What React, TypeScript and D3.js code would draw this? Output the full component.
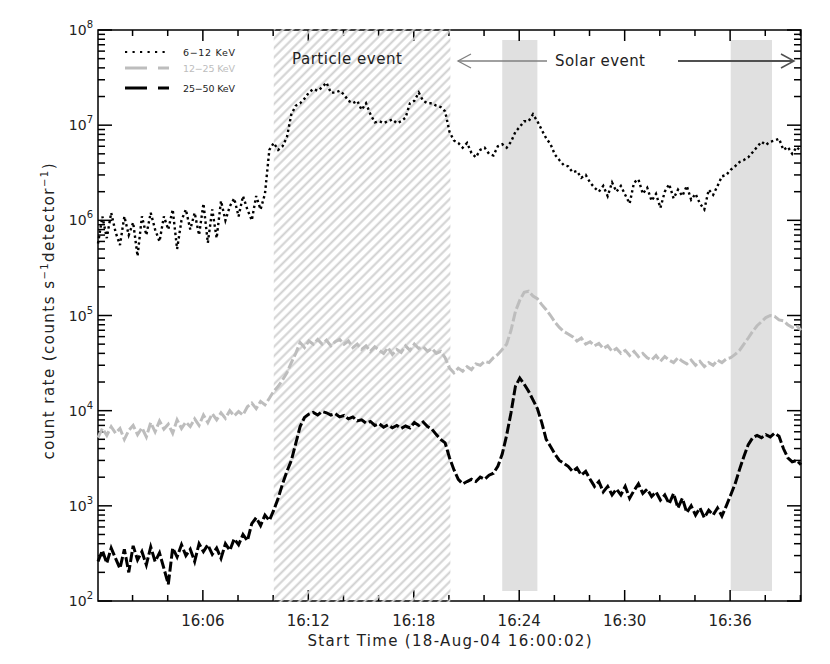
import * as d3 from 'd3'
import { useEffect, useRef } from 'react'

const W = 830
const H = 664
const FONT = '"DejaVu Sans", "Liberation Sans", sans-serif'

// samples every 15 s, minutes after the start time 16:00:02
const SAMPLE_MIN = 0.25
const START_OFFSET = 2 / 60

// 6-12 keV
const lowBand = [
  5.7e5, 1.1e6, 6.5e5, 1.2e6,
  7.5e5, 5.5e5, 1.1e6, 7.0e5,
  9.5e5, 4.2e5, 1.1e6, 7.0e5,
  1.2e6, 8.0e5, 6.0e5, 1.1e6,
  8.0e5, 1.3e6, 5.0e5, 1.0e6,
  1.3e6, 8.0e5, 1.2e6, 7.0e5,
  1.5e6, 5.8e5, 1.3e6, 6.5e5,
  1.6e6, 1.0e6, 1.4e6, 1.7e6,
  1.1e6, 1.8e6, 1.3e6, 1.0e6,
  1.8e6, 1.3e6, 1.9e6, 5.5e6,
  6.5e6, 5.5e6, 6.0e6, 7.5e6,
  1.3e7, 1.6e7, 1.7e7, 1.9e7,
  2.2e7, 2.4e7, 2.3e7, 2.5e7,
  2.8e7, 2.2e7, 2.2e7, 2.3e7,
  2.1e7, 1.8e7, 1.7e7, 1.8e7,
  1.45e7, 1.7e7, 1.3e7, 1.07e7,
  1.1e7, 1.05e7, 1.1e7, 1.15e7,
  1.05e7, 1.1e7, 1.2e7, 1.7e7,
  1.8e7, 2.2e7, 1.8e7, 1.7e7,
  1.7e7, 1.6e7, 1.55e7, 1.4e7,
  8.5e6, 6.9e6, 6.5e6, 5.8e6,
  6.5e6, 5.1e6, 4.6e6, 5.5e6,
  5.8e6, 5.0e6, 4.8e6, 6.0e6,
  6.3e6, 5.8e6, 6.7e6, 8.5e6,
  9.6e6, 1.1e7, 1.1e7, 1.3e7,
  1.1e7, 8.9e6, 7.3e6, 6.3e6,
  4.9e6, 4.3e6, 3.8e6, 3.7e6,
  3.2e6, 3.3e6, 2.8e6, 3.0e6,
  2.5e6, 2.2e6, 2.0e6, 2.3e6,
  1.8e6, 2.5e6, 2.0e6, 2.3e6,
  1.85e6, 1.5e6, 2.5e6, 2.7e6,
  1.9e6, 2.2e6, 1.6e6, 1.9e6,
  1.35e6, 2.0e6, 2.4e6, 1.7e6,
  2.1e6, 1.8e6, 2.3e6, 1.65e6,
  1.9e6, 1.5e6, 1.3e6, 2.1e6,
  1.85e6, 2.3e6, 2.9e6, 3.0e6,
  3.4e6, 3.7e6, 4.1e6, 4.3e6,
  4.6e6, 5.2e6, 5.9e6, 6.7e6,
  6.2e6, 6.7e6, 6.9e6, 7.2e6,
  5.5e6, 5.9e6, 5.0e6, 5.9e6,
  5.3e6,
]

// 12-25 keV
const midBand = [
  5.2e3, 6.5e3, 5.5e3, 6.8e3,
  5.8e3, 6.5e3, 5.0e3, 6.2e3,
  7.0e3, 5.6e3, 6.6e3, 5.3e3,
  7.5e3, 6.0e3, 7.8e3, 6.4e3,
  7.2e3, 5.8e3, 8.0e3, 6.5e3,
  7.6e3, 6.8e3, 8.2e3, 7.0e3,
  9.0e3, 7.5e3, 9.3e3, 8.0e3,
  9.5e3, 8.3e3, 1.0e4, 8.8e3,
  9.8e3, 9.0e3, 1.1e4, 1.2e4,
  1.05e4, 1.25e4, 1.15e4, 1.35e4,
  1.6e4, 1.8e4, 2.1e4, 2.5e4,
  3.2e4, 4.0e4, 5.2e4, 4.6e4,
  5.4e4, 5.0e4, 5.6e4, 5.0e4,
  5.5e4, 4.8e4, 5.3e4, 5.6e4,
  5.0e4, 5.4e4, 4.6e4, 5.0e4,
  4.4e4, 4.8e4, 4.2e4, 4.7e4,
  4.3e4, 4.0e4, 4.6e4, 3.9e4,
  4.4e4, 4.1e4, 4.8e4, 4.3e4,
  5.0e4, 4.5e4, 4.7e4, 4.2e4,
  4.5e4, 4.0e4, 4.2e4, 3.6e4,
  2.8e4, 2.5e4, 2.8e4, 2.6e4,
  2.9e4, 2.7e4, 3.1e4, 3.0e4,
  3.3e4, 3.2e4, 3.6e4, 3.9e4,
  4.4e4, 5.0e4, 7.0e4, 1.1e5,
  1.45e5, 1.75e5, 1.8e5, 1.6e5,
  1.5e5, 1.3e5, 1.15e5, 1.0e5,
  8.5e4, 7.5e4, 6.8e4, 6.4e4,
  6.0e4, 5.4e4, 5.8e4, 5.0e4,
  5.3e4, 4.8e4, 5.1e4, 4.5e4,
  4.8e4, 4.2e4, 4.5e4, 4.0e4,
  4.3e4, 3.8e4, 4.2e4, 3.7e4,
  4.0e4, 3.6e4, 3.4e4, 3.8e4,
  3.3e4, 3.7e4, 3.4e4, 3.2e4,
  3.6e4, 3.3e4, 3.1e4, 3.4e4,
  3.0e4, 3.3e4, 2.9e4, 3.2e4,
  3.0e4, 3.4e4, 3.2e4, 3.5e4,
  3.6e4, 3.9e4, 4.3e4, 5.0e4,
  5.8e4, 6.8e4, 7.8e4, 8.6e4,
  9.5e4, 1.0e5, 9.8e4, 9.0e4,
  8.8e4, 8.0e4, 7.5e4, 7.8e4,
  7.0e4,
]

// 25-50 keV
const highBand = [
  2.6e2, 3.4e2, 2.5e2, 3.6e2,
  2.8e2, 2.2e2, 3.5e2, 2.0e2,
  3.8e2, 2.7e2, 3.3e2, 2.4e2,
  3.7e2, 2.6e2, 3.2e2, 2.2e2,
  1.5e2, 3.6e2, 2.9e2, 3.9e2,
  3.0e2, 3.5e2, 2.6e2, 4.0e2,
  3.3e2, 3.9e2, 3.1e2, 3.6e2,
  2.8e2, 4.0e2, 3.4e2, 4.5e2,
  3.9e2, 5.0e2, 4.3e2, 6.5e2,
  7.5e2, 6.2e2, 8.0e2, 7.0e2,
  9.0e2, 1.2e3, 1.7e3, 2.3e3,
  3.0e3, 4.5e3, 6.8e3, 8.5e3,
  9.2e3, 9.6e3, 9.0e3, 9.8e3,
  9.5e3, 9.0e3, 9.3e3, 8.6e3,
  8.9e3, 8.2e3, 8.6e3, 7.8e3,
  8.0e3, 7.4e3, 7.7e3, 7.0e3,
  7.3e3, 6.7e3, 7.1e3, 6.6e3,
  7.0e3, 6.5e3, 6.9e3, 6.6e3,
  7.5e3, 7.0e3, 7.6e3, 6.8e3,
  6.4e3, 5.6e3, 5.0e3, 4.6e3,
  3.2e3, 2.4e3, 1.9e3, 1.7e3,
  1.8e3, 1.9e3, 1.8e3, 2.0e3,
  1.9e3, 2.1e3, 2.2e3, 2.6e3,
  3.5e3, 5.5e3, 9.5e3, 1.8e4,
  2.2e4, 1.9e4, 1.6e4, 1.3e4,
  1.05e4, 7.5e3, 5.0e3, 4.2e3,
  3.5e3, 3.0e3, 2.8e3, 2.6e3,
  2.3e3, 2.5e3, 2.1e3, 2.3e3,
  1.9e3, 1.6e3, 1.8e3, 1.4e3,
  1.6e3, 1.3e3, 1.5e3, 1.3e3,
  1.6e3, 1.2e3, 1.45e3, 1.7e3,
  1.35e3, 1.5e3, 1.25e3, 1.4e3,
  1.15e3, 1.3e3, 1.05e3, 1.35e3,
  9.5e2, 1.2e3, 8.5e2, 1.0e3,
  8.0e2, 9.5e2, 7.5e2, 9.0e2,
  8.0e2, 9.5e2, 7.8e2, 1.0e3,
  1.3e3, 1.7e3, 2.4e3, 3.3e3,
  4.4e3, 5.2e3, 5.5e3, 5.2e3,
  5.6e3, 5.3e3, 5.8e3, 5.4e3,
  4.0e3, 3.2e3, 2.9e3, 3.0e3,
  2.7e3,
]

const seriesLabels = ['6\u221212 KeV', '12\u221225 KeV', '25\u221250 KeV']
const seriesColors = ['#000000', '#bdbdbd', '#000000']

const majorTickMinutes = [6, 12, 18, 24, 30, 36]
const majorTickLabels = ['16:06', '16:12', '16:18', '16:24', '16:30', '16:36']
const minorTickMinutes = [2, 4, 8, 10, 14, 16, 20, 22, 26, 28, 32, 34, 38, 40]
const decadeExponents = [2, 3, 4, 5, 6, 7, 8]

// shaded intervals, minutes after 16:00:02
const particleInterval = [10.0, 20.05]
const solarIntervals = [
  [23.0, 25.0],
  [36.0, 38.35],
]

export default function App() {
  const ref = useRef<SVGSVGElement | null>(null)

  useEffect(() => {
    const svgEl = ref.current
    if (!svgEl) return
    const svg = d3.select(svgEl)
    svg.selectAll('*').remove()

    const left = 98
    const right = 801
    const top = 30
    const bottom = 601
    const x = d3.scaleLinear().domain([0, 40]).range([left, right])
    const y = d3.scaleLog().domain([1e2, 1e8]).range([bottom, top])

    const defs = svg.append('defs')
    const pat = defs
      .append('pattern')
      .attr('id', 'hatch')
      .attr('patternUnits', 'userSpaceOnUse')
      .attr('width', 6.6)
      .attr('height', 6.6)
      .attr('patternTransform', 'rotate(45)')
    pat
      .append('line')
      .attr('x1', 3.3)
      .attr('y1', 0)
      .attr('x2', 3.3)
      .attr('y2', 6.6)
      .attr('stroke', '#d0d0d0')
      .attr('stroke-width', 2)

    // solar event bands
    for (const [a, b] of solarIntervals) {
      svg
        .append('rect')
        .attr('x', x(a))
        .attr('y', top + 10)
        .attr('width', x(b) - x(a))
        .attr('height', bottom - top - 20)
        .attr('fill', '#e0e0e0')
    }

    // frame + ticks
    const axes = svg.append('g').attr('stroke', '#000').attr('stroke-width', 1.5)
    axes
      .append('rect')
      .attr('x', left)
      .attr('y', top)
      .attr('width', right - left)
      .attr('height', bottom - top)
      .attr('fill', 'none')

    const tx = (m: number) => x(m - START_OFFSET)
    for (const m of majorTickMinutes) {
      axes.append('line').attr('x1', tx(m)).attr('x2', tx(m)).attr('y1', bottom).attr('y2', bottom - 11)
      axes.append('line').attr('x1', tx(m)).attr('x2', tx(m)).attr('y1', top).attr('y2', top + 11)
    }
    for (const m of minorTickMinutes) {
      if (tx(m) > right) continue
      axes.append('line').attr('x1', tx(m)).attr('x2', tx(m)).attr('y1', bottom).attr('y2', bottom - 6)
      axes.append('line').attr('x1', tx(m)).attr('x2', tx(m)).attr('y1', top).attr('y2', top + 6)
    }
    for (const e of decadeExponents) {
      const yy = y(10 ** e)
      axes.append('line').attr('x1', left).attr('x2', left + 14).attr('y1', yy).attr('y2', yy)
      axes.append('line').attr('x1', right).attr('x2', right - 14).attr('y1', yy).attr('y2', yy)
      if (e === 8) continue
      for (let k = 2; k <= 9; k++) {
        const ym = y(k * 10 ** e)
        axes.append('line').attr('x1', left).attr('x2', left + 7).attr('y1', ym).attr('y2', ym)
        axes.append('line').attr('x1', right).attr('x2', right - 7).attr('y1', ym).attr('y2', ym)
      }
    }

    // particle event hatch (drawn over the frame)
    svg
      .append('rect')
      .attr('x', x(particleInterval[0]))
      .attr('y', top - 1)
      .attr('width', x(particleInterval[1]) - x(particleInterval[0]))
      .attr('height', bottom - top + 2)
      .attr('fill', 'url(#hatch)')

    // data
    const line = d3
      .line<number>()
      .x((_, i) => x(i * SAMPLE_MIN))
      .y((d) => y(d))

    svg
      .append('path')
      .attr('d', line(midBand))
      .attr('fill', 'none')
      .attr('stroke', seriesColors[1])
      .attr('stroke-width', 3)
      .attr('stroke-dasharray', '10,3')
    svg
      .append('path')
      .attr('d', line(highBand))
      .attr('fill', 'none')
      .attr('stroke', seriesColors[2])
      .attr('stroke-width', 3)
      .attr('stroke-dasharray', '10,3')
    svg
      .append('path')
      .attr('d', line(lowBand))
      .attr('fill', 'none')
      .attr('stroke', seriesColors[0])
      .attr('stroke-width', 2.4)
      .attr('stroke-dasharray', '2.4,3')

    // tick labels
    const labels = svg.append('g').attr('font-family', FONT).attr('fill', '#222')
    majorTickMinutes.forEach((m, i) => {
      labels
        .append('text')
        .attr('x', tx(m))
        .attr('y', bottom + 25)
        .attr('text-anchor', 'middle')
        .attr('font-size', 15)
        .text(majorTickLabels[i])
    })
    for (const e of decadeExponents) {
      const t = labels
        .append('text')
        .attr('x', left - 5)
        .attr('y', y(10 ** e) + 5)
        .attr('text-anchor', 'end')
        .attr('font-size', 14)
      t.append('tspan').text('10')
      t.append('tspan').attr('font-size', 10).attr('dy', -7).text(String(e))
    }

    labels
      .append('text')
      .attr('x', (left + right) / 2)
      .attr('y', bottom + 45)
      .attr('text-anchor', 'middle')
      .attr('font-size', 15)
      .attr('textLength', 284)
      .text('Start Time (18-Aug-04 16:00:02)')

    const yt = labels
      .append('text')
      .attr('transform', `translate(54,${(top + bottom) / 2 - 4}) rotate(-90)`)
      .attr('text-anchor', 'middle')
      .attr('font-size', 15)
      .attr('textLength', 296)
    yt.append('tspan').text('count rate (counts s')
    yt.append('tspan').attr('font-size', 10).attr('dy', -6).text('\u22121')
    yt.append('tspan').attr('dy', 6).text('detector')
    yt.append('tspan').attr('font-size', 10).attr('dy', -6).text('\u22121')
    yt.append('tspan').attr('dy', 6).text(')')

    // legend
    const legendY = [52, 68, 88]
    const legendDash = ['2.2,5.3', '22,11', '22,11']
    const legendWidth = [2.2, 3, 3]
    seriesLabels.forEach((lab, i) => {
      svg
        .append('line')
        .attr('x1', 125)
        .attr('x2', 169)
        .attr('y1', legendY[i])
        .attr('y2', legendY[i])
        .attr('stroke', seriesColors[i])
        .attr('stroke-width', legendWidth[i])
        .attr('stroke-dasharray', legendDash[i])
      svg
        .append('text')
        .attr('x', 183)
        .attr('y', legendY[i] + 3.5)
        .attr('font-family', FONT)
        .attr('font-size', 9.5)
        .attr('textLength', 52)
        .attr('fill', i === 1 ? seriesColors[1] : '#222')
        .text(lab)
    })

    // annotations
    svg
      .append('text')
      .attr('x', 292)
      .attr('y', 64)
      .attr('font-family', FONT)
      .attr('font-size', 15)
      .attr('fill', '#222')
      .attr('textLength', 110)
      .text('Particle event')
    svg
      .append('text')
      .attr('x', 555)
      .attr('y', 66)
      .attr('font-family', FONT)
      .attr('font-size', 15)
      .attr('fill', '#222')
      .attr('textLength', 90)
      .text('Solar event')

    svg.append('line').attr('x1', 458).attr('x2', 547).attr('y1', 61).attr('y2', 61).attr('stroke', '#808080').attr('stroke-width', 1.3)
    svg.append('path').attr('d', 'M471,54L458,61L471,68').attr('fill', 'none').attr('stroke', '#808080').attr('stroke-width', 1.3)
    svg.append('line').attr('x1', 678).attr('x2', 794).attr('y1', 61).attr('y2', 61).attr('stroke', '#505050').attr('stroke-width', 1.8)
    svg.append('path').attr('d', 'M781,54L794,61L781,68').attr('fill', 'none').attr('stroke', '#505050').attr('stroke-width', 1.5)
  }, [])

  return (
    <svg
      ref={ref}
      width={W}
      height={H}
      style={{ position: 'absolute', left: 0, top: 0, background: '#fff' }}
    />
  )
}
